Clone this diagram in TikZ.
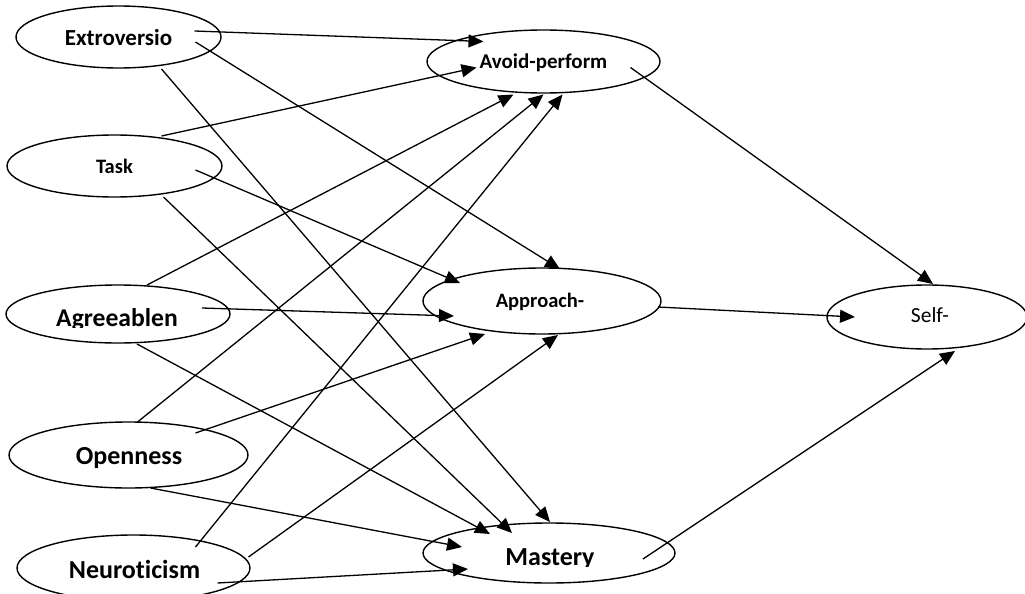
\documentclass[tikz,border=0pt]{standalone}
\usepackage{fontspec}
\setmainfont{Carlito}[Ligatures=CommonOff]
\usetikzlibrary{arrows.meta,shapes.geometric}
\tikzset{
  oval/.style={ellipse, draw=black, line width=1.4pt, inner sep=0pt, fill=white},
  lbl/.style={anchor=base, inner sep=0pt, font=\bfseries},
  conn/.style={line width=1.3pt, -{Triangle[length=15pt,width=13pt]}},
}
\begin{document}
\begin{tikzpicture}[x=1pt,y=-1pt]
\useasboundingbox (0,0) rectangle (1025,594);
\clip (0,0) rectangle (1025,594);
% ellipses
\node[oval, minimum width=205pt, minimum height=62pt] (ext) at (118.5,37) {};
\node[oval, minimum width=215pt, minimum height=62pt] (task) at (114.5,166) {};
\node[oval, minimum width=224pt, minimum height=58pt] (agr) at (118,314) {};
\node[oval, minimum width=239pt, minimum height=66pt] (open) at (128.5,455) {};
\node[oval, minimum width=233pt, minimum height=66pt] (neuro) at (133.5,568) {};
\node[oval, minimum width=233pt, minimum height=63pt] (avp) at (543.5,61.5) {};
\node[oval, minimum width=238pt, minimum height=66pt] (app) at (542,301) {};
\node[oval, minimum width=200pt, minimum height=64pt] (self) at (927,317) {};
\node[oval, minimum width=252pt, minimum height=60pt] (mast) at (549,553) {};
% texts
\node[lbl, font=\bfseries\fontsize{23}{27}\selectfont] (extT) at (118.5,46) {Extroversio};
\node[lbl, font=\bfseries\fontsize{20.5}{24}\selectfont] (taskT) at (114.5,173) {Task};
\begin{scope}
\clip (0,280) rectangle (240,327);
\node[lbl, font=\bfseries\fontsize{25.6}{30}\selectfont] (agrT) at (117,326) {Agreeablen};
\end{scope}
\node[lbl, font=\bfseries\fontsize{26}{30}\selectfont] (openT) at (129,464) {Openness};
\node[lbl, font=\bfseries\fontsize{26}{30}\selectfont] (neuroT) at (134.5,578) {Neurot\kern0pt icism};
\node[lbl, font=\bfseries\fontsize{21}{25}\selectfont] (avpT) at (543.5,68) {Avoid-perform};
\node[lbl, font=\bfseries\fontsize{20.5}{24}\selectfont] (appT) at (540,307) {Approach-};
\node[lbl, font=\fontsize{21.5}{25}\selectfont] (selfT) at (930,322) {Self-};
\begin{scope}
\clip (420,520) rectangle (680,566);
\node[lbl, font=\bfseries\fontsize{26}{30}\selectfont] (mastT) at (550,565) {Mastery};
\end{scope}
% connectors
\draw[conn] ([shift={(76,-6)}]ext.center) -- ([shift={(-60,-20)}]avp.center);
\draw[conn] ([shift={(77,5)}]ext.center) -- ([shift={(18,-32)}]app.center);
\draw[conn] ([shift={(43,32)}]ext.center) -- ([shift={(1,-31)}]mast.center);
\draw[conn] ([shift={(47,-30)}]task.center) -- ([shift={(-67,6)}]avp.center);
\draw[conn] ([shift={(81,4)}]task.center) -- ([shift={(-82,-18)}]app.center);
\draw[conn] ([shift={(49,31)}]task.center) -- ([shift={(-37,-20)}]mast.center);
\draw[conn] ([shift={(29,-29)}]agr.center) -- ([shift={(-30,33)}]avp.center);
\draw[conn] ([shift={(84,-6)}]agr.center) -- ([shift={(-88,15)}]app.center);
\draw[conn] ([shift={(19,30)}]agr.center) -- ([shift={(-59,-19)}]mast.center);
\draw[conn] ([shift={(9,-33)}]open.center) -- ([shift={(0,33)}]avp.center);
\draw[conn] ([shift={(67,-22)}]open.center) -- ([shift={(-57,33)}]app.center);
\draw[conn] ([shift={(22,33)}]open.center) -- ([shift={(-87,-6)}]mast.center);
\draw[conn] ([shift={(62,-21)}]neuro.center) -- ([shift={(19,33)}]avp.center);
\draw[conn] ([shift={(115,-11)}]neuro.center) -- ([shift={(16,34)}]app.center);
\draw[conn] ([shift={(84,15)}]neuro.center) -- ([shift={(-81,16)}]mast.center);
\draw[conn] ([shift={(87,6)}]avp.center) -- ([shift={(6,-33)}]self.center);
\draw[conn] ([shift={(116,6)}]app.center) -- ([shift={(-72,0)}]self.center);
\draw[conn] ([shift={(94,6)}]mast.center) -- ([shift={(28,34)}]self.center);
\end{tikzpicture}
\end{document}
